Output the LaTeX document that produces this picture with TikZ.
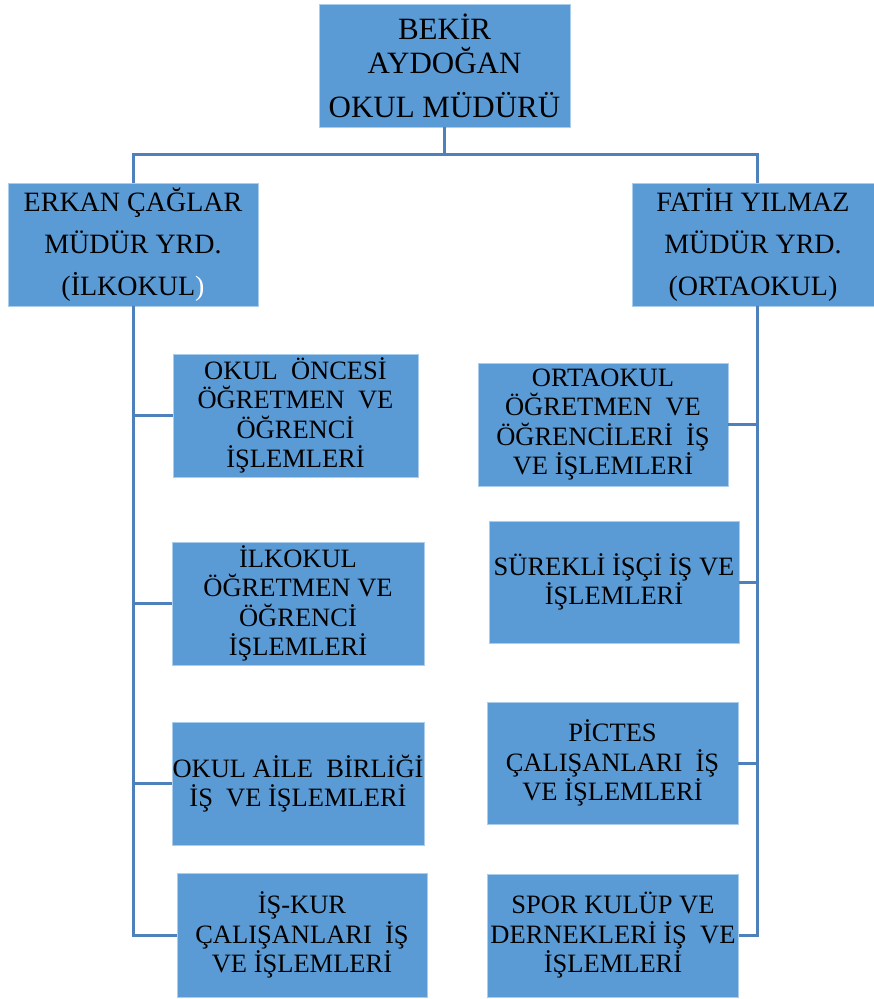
\documentclass[tikz,border=0pt]{standalone}
\usepackage{fontspec}
\setmainfont{Liberation Serif}
\definecolor{boxfill}{RGB}{91,155,213}
\definecolor{boxline}{RGB}{170,205,235}
\definecolor{connline}{RGB}{78,128,188}
\begin{document}
\begin{tikzpicture}[x=1pt,y=-1pt,
  orgbox/.style={draw=boxline, line width=0.8pt, fill=boxfill, inner sep=0pt, align=center, text=black},
  childfont/.style={font=\fontsize{26.5}{29.5}\selectfont},
  conn/.style={draw=connline, line width=3pt}]
\useasboundingbox (0,0) rectangle (874,999);
% top
\node[orgbox, minimum width=251pt, minimum height=123pt, font=\fontsize{31}{34}\selectfont] (top) at (444.5,65.5) {BEKİR\\AYDOĞAN\\[10pt]OKUL MÜDÜRÜ};
% deputies
\node[orgbox, minimum width=250pt, minimum height=123pt, font=\fontsize{28}{42}\selectfont] (lm) at (133,244.5) {ERKAN ÇAĞLAR\\MÜDÜR YRD.\\(İLKOKUL\textcolor{white}{)}};
\node[orgbox, minimum width=242pt, minimum height=123pt, font=\fontsize{28}{42}\selectfont] (rm) at (753,244.5) {FATİH YILMAZ\\MÜDÜR YRD.\\(ORTAOKUL)};
% left children
\node[orgbox, childfont, minimum width=245pt, minimum height=123pt] (l1) at (295.5,415.5) {OKUL~ ÖNCESİ\\ÖĞRETMEN~ VE\\ÖĞRENCİ\\İŞLEMLERİ};
\node[orgbox, childfont, minimum width=252pt, minimum height=123pt] (l2) at (298,603.5) {İLKOKUL\\ÖĞRETMEN VE\\ÖĞRENCİ\\İŞLEMLERİ};
\node[orgbox, childfont, minimum width=252pt, minimum height=123pt] (l3) at (298,783.5) {OKUL AİLE~ BİRLİĞİ\\İŞ~ VE İŞLEMLERİ};
\node[orgbox, childfont, minimum width=250pt, minimum height=124pt] (l4) at (302,935) {İŞ-KUR\\ÇALIŞANLARI~ İŞ\\VE İŞLEMLERİ};
% right children
\node[orgbox, childfont, minimum width=250pt, minimum height=123pt] (r1) at (603,424.5) {ORTAOKUL\\ÖĞRETMEN~ VE\\ÖĞRENCİLERİ~ İŞ\\VE İŞLEMLERİ};
\node[orgbox, childfont, minimum width=250pt, minimum height=122pt] (r2) at (614,582) {SÜREKLİ İŞÇİ İŞ VE\\İŞLEMLERİ};
\node[orgbox, childfont, minimum width=251pt, minimum height=122pt] (r3) at (612.5,763) {PİCTES\\ÇALIŞANLARI~ İŞ\\VE İŞLEMLERİ};
\node[orgbox, childfont, minimum width=251pt, minimum height=123pt] (r4) at (613,935.5) {SPOR KULÜP VE\\DERNEKLERİ İŞ~ VE\\İŞLEMLERİ};
% helper coordinates
\coordinate (hb) at (757,154);
\coordinate (rspine) at (757,306);
% connectors from top
\draw[conn] (top.south) -- (top.south |- hb);
\draw[conn] (lm.north) |- (hb) -- (hb |- rm.north);
% left spine
\draw[conn] (lm.south) |- (l4.west);
\draw[conn] (lm.south |- l1.west) -- (l1.west);
\draw[conn] (lm.south |- l2.west) -- (l2.west);
\draw[conn] (lm.south |- l3.west) -- (l3.west);
% right spine
\draw[conn] (rspine) |- (r4.east);
\draw[conn] (rspine |- r1.east) -- (r1.east);
\draw[conn] (rspine |- r2.east) -- (r2.east);
\draw[conn] (rspine |- r3.east) -- (r3.east);
\end{tikzpicture}
\end{document}
